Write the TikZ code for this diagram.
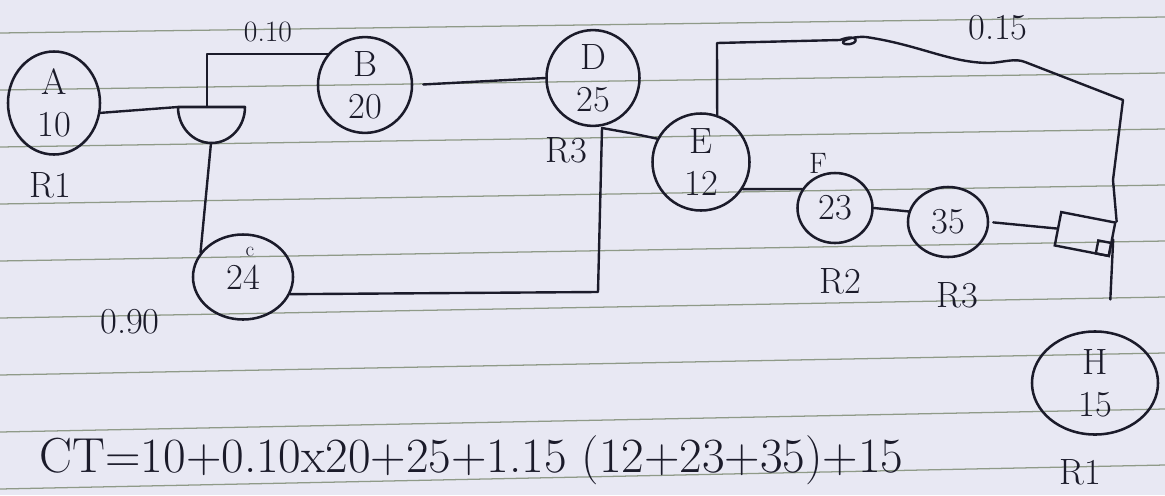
\documentclass[tikz,border=0pt]{standalone}
\usetikzlibrary{shapes.geometric}
\definecolor{paper}{HTML}{E8E8F3}
\definecolor{rule}{HTML}{8F9A88}
\definecolor{ink}{HTML}{1B1B2A}
\newcommand{\handfont}{\fontsize{26}{30}\selectfont}
\newcommand{\smallhand}{\fontsize{21}{24}\selectfont}
\begin{document}
\begin{tikzpicture}[x=0.025cm,y=-0.025cm,
  wire/.style={draw=ink, line width=1.7pt, line join=round, line cap=round},
  stn/.style={ellipse, draw=ink, line width=1.8pt, inner sep=0pt, align=center, text=ink, font=\handfont},
  lbl/.style={text=ink, font=\handfont, inner sep=1pt},
  slbl/.style={text=ink, font=\smallhand, inner sep=1pt},
  boxn/.style={rectangle, draw=ink, line width=1.7pt, inner sep=0pt, rotate=-11},
]
\useasboundingbox (0,0) rectangle (1165,495);
\fill[paper] (0,0) rectangle (1165,495);
\foreach \k in {0,...,8} \draw[rule, line width=0.9pt] (0,{33+57*\k}) -- (1165,{17+56*\k});

% stations
\node[stn, minimum width=2.3cm, minimum height=2.575cm] (A) at (54,103) {A\\10};
\node[stn, minimum width=2.35cm, minimum height=1.9cm] (B) at (365,85) {B\\20};
\node[stn, minimum width=2.325cm, minimum height=2.225cm] (D) at (593,78) {D\\25};
\node[stn, minimum width=2.5cm, minimum height=2.125cm] (C) at (243,277) {24};
\node[stn, minimum width=2.425cm, minimum height=2.425cm] (E) at (701,162) {E\\12};
\node[stn, minimum width=1.875cm, minimum height=1.75cm] (F) at (835,208) {23};
\node[stn, minimum width=2.0cm, minimum height=1.75cm] (G) at (948,222) {35};
\node[stn, minimum width=3.15cm, minimum height=2.575cm] (H) at (1095,383) {H\\15};
\node[boxn, minimum width=1.375cm, minimum height=0.85cm] (X) at (1085,234) {};
\node[boxn, minimum width=0.33cm, minimum height=0.33cm, anchor=south east] (Xi) at (X.south east) {};

% junction (bowl)
\coordinate (Jw) at (178,107);
\coordinate (Je) at (245,107);
\coordinate (Jt) at (207,107);
\coordinate (Jb) at (211,143);
\draw[wire, line width=1.8pt] (Jw) -- (Je) arc[start angle=0, end angle=-180, x radius=0.8375cm, y radius=0.9cm];

% connectors
\draw[wire] (A.-12) -- (Jw);
\draw[wire] (Jt) |- (B.140);
\draw[wire, shorten <=0.25cm] (B.east) -- (D.west);
\draw[wire] (Jb) -- (C.150);
\coordinate (k1) at (598,292);
\coordinate (k2) at (602,128);
\coordinate (k3) at (630,133);
\draw[wire] (C.-20) -- (k1) -- (k2) -- (k3) -- (E.152);
\coordinate (t1) at (717,43);
\coordinate (t2) at (840,40);
\coordinate (t6) at (1123,100);
\coordinate (t7) at (1113,180);
\draw[wire] (E.71) -- (t1) -- (t2) .. controls (860,32) and (860,46) .. (845,44)
  .. controls (838,42) and (850,36) .. (866,37)
  .. controls (920,45) and (950,63) .. (990,63)
  .. controls (1005,62) and (1015,58) .. (1025,62) -- (t6) -- (t7) -- (X.north east);
\draw[wire] (E.-33) -- (F.150);
\draw[wire] (F.east) -- (G.165);
\draw[wire, shorten <=0.1cm] (G.east) -- (X.west);
\draw[wire, shorten >=0.8cm] (X.east) -- (H.75);

% labels
\node[slbl, font=\fontsize{15}{18}\selectfont] (lc) at (250,252) {c};
\node[slbl] (l010) at (268,32) {0.10};
\node[lbl] (lR1a) at (50,185) {R1};
\node[lbl] (lR3a) at (566,150) {R3};
\node[slbl] (lF) at (818,163) {F};
\node[lbl] (lR2) at (840,281) {R2};
\node[lbl] (lR3b) at (957,295) {R3};
\node[lbl] (l015) at (998,28) {0.15};
\node[lbl] (l090) at (130,322) {0.90};
\node[lbl] (lR1b) at (1080,472) {R1};
\node[lbl, font=\fontsize{35}{40}\selectfont, anchor=west] (ct) at (38,460) {CT=10+0.10x20+25+1.15 (12+23+35)+15};
\end{tikzpicture}
\end{document}
